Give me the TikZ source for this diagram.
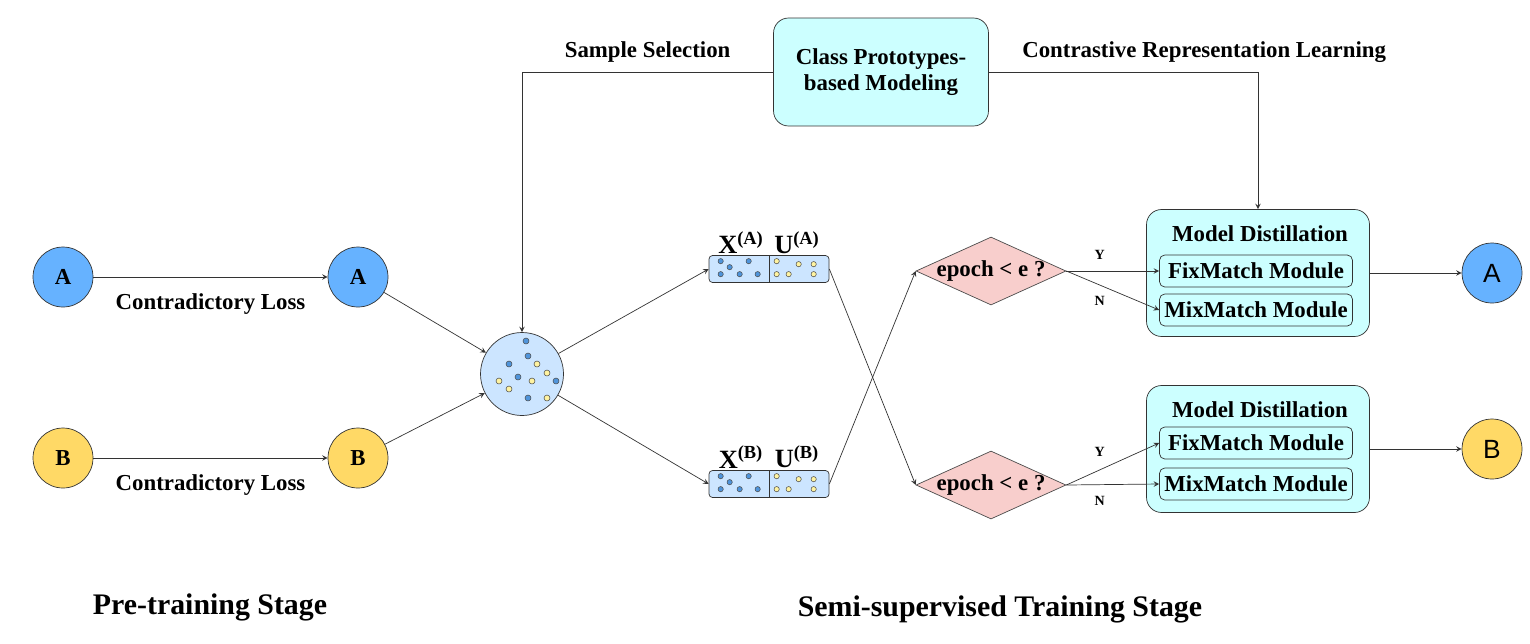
\documentclass[tikz,border=0pt]{standalone}
\usepackage{fontspec}
\setmainfont{Liberation Serif}
\newfontfamily\arialfont{Liberation Sans}
\usetikzlibrary{arrows, shapes.geometric, positioning}

\definecolor{blueA}{HTML}{66B2FF}
\definecolor{yellowB}{HTML}{FFD966}
\definecolor{poolblue}{HTML}{CCE5FF}
\definecolor{cyanbox}{HTML}{CCFFFF}
\definecolor{pinkdec}{HTML}{F8CECC}
\definecolor{dotblue}{HTML}{4F94DB}
\definecolor{dotyellow}{HTML}{FFF3A0}

\begin{document}
\begin{tikzpicture}[x=0.02cm, y=-0.02cm, ->, >=stealth, draw=black!80,
	font=\fontsize{13}{15}\selectfont\bfseries,
	model/.style={circle, draw=black!80, minimum size=1.2cm, inner sep=0pt},
	pool/.style={circle, draw=black!80, fill=poolblue, minimum size=1.66cm},
	batch/.style={rectangle, rounded corners=2pt, draw=black!80, fill=poolblue, minimum width=2.4cm, minimum height=0.54cm},
	decision/.style={diamond, draw=black!70, fill=pinkdec, aspect=2.2, minimum width=3cm, minimum height=1.36cm, inner sep=-2pt},
	distill/.style={rectangle, rounded corners=0.3cm, draw=black!80, fill=cyanbox, minimum width=4.46cm, minimum height=2.54cm},
	module/.style={rectangle, rounded corners=3pt, draw=black!80, fill=cyanbox, minimum width=3.86cm, minimum height=0.64cm, inner sep=0pt},
	proto/.style={rectangle, rounded corners=0.3cm, draw=black!80, fill=cyanbox, minimum width=4.3cm, minimum height=2.16cm, align=center},
	yn/.style={font=\fontsize{8}{9}\selectfont\bfseries},
	stage/.style={font=\fontsize{17}{20}\selectfont\bfseries},
	bdot/.style={fill=dotblue, draw=black!70, line width=0.3pt},
	ydot/.style={fill=dotyellow, draw=black!70, line width=0.3pt}]

	\useasboundingbox (0,0) rectangle (1530,643);

	% pre-training models
	\node[model, fill=blueA] (inA) at (63,277) {A};
	\node[model, fill=yellowB] (inB) at (63,458) {B};
	\node[model, fill=blueA] (preA) at (358,277) {A};
	\node[model, fill=yellowB] (preB) at (358,458) {B};

	% mixed sample pool
	\node[pool] (pool) at (522,374) {};
	\foreach \dx/\dy in {4/-33, 6/-18, -13/-10, -4/3, 34/7, 6/24}
		\draw[-, bdot] ([shift={(\dx,\dy)}]pool.center) circle (1.7pt);
	\foreach \dx/\dy in {15/-10, 25/-1, -23/7, 10/7, -13/15, 25/24}
		\draw[-, ydot] ([shift={(\dx,\dy)}]pool.center) circle (1.7pt);

	% labeled / unlabeled splits
	\node[batch] (xa) at (769,269) {};
	\node[batch] (xb) at (769,484) {};
	\foreach \b in {xa, xb} {
		\draw[-] (\b.north) -- (\b.south);
		\foreach \dx/\dy in {12/6, 40/6, 21/12, 12/19, 31/19, 49/19}
			\draw[-, bdot] ([shift={(\dx,\dy)}]\b.north west) circle (1.5pt);
		\foreach \dx/\dy in {68/6, 90/9, 105/9, 68/19, 80/19, 105/19}
			\draw[-, ydot] ([shift={(\dx,\dy)}]\b.north west) circle (1.5pt);
	}
	\node (xlabA) at (741,243) {\fontsize{15}{17}\selectfont X\textsuperscript{(A)}};
	\node (ulabA) at (797,243) {\fontsize{15}{17}\selectfont U\textsuperscript{(A)}};
	\node (xlabB) at (741,457) {\fontsize{15}{17}\selectfont X\textsuperscript{(B)}};
	\node (ulabB) at (797,457) {\fontsize{15}{17}\selectfont U\textsuperscript{(B)}};

	% decisions
	\node[decision] (decA) at (991,271) {epoch < e ?};
	\node[decision] (decB) at (991,485) {epoch < e ?};

	% distillation blocks
	\node[distill] (mdA) at (1258,273) {};
	\node (titleA) at (1260,234) {Model Distillation};
	\node[module] (fixA) at (1256,271) {FixMatch Module};
	\node[module] (mixA) at (1256,310) {MixMatch Module};

	\node[distill] (mdB) at (1258,449) {};
	\node (titleB) at (1260,410) {Model Distillation};
	\node[module] (fixB) at (1256,443) {FixMatch Module};
	\node[module] (mixB) at (1256,484) {MixMatch Module};

	\node[model, fill=blueA, font=\arialfont\fontsize{15}{17}\selectfont] (outA) at (1492,273) {A};
	\node[model, fill=yellowB, font=\arialfont\fontsize{15}{17}\selectfont] (outB) at (1492,449) {B};

	\node[proto] (cpm) at (881,72) {Class Prototypes-\\based Modeling};

	\path
	(inA) edge node[below=6pt] {Contradictory Loss} (preA)
	(inB) edge node[below=6pt] {Contradictory Loss} (preB)
	(preA) edge (pool)
	(preB) edge (pool)
	(pool) edge (xa.west)
			edge (xb.west)
	(xa.east) edge (decB.west)
	(xb.east) edge (decA.west)
	(decA.east) edge node[yn, pos=0.36, above=3pt] {Y} (fixA.west)
			edge node[yn, pos=0.36, below=3pt] {N} (mixA.west)
	(decB.east) edge node[yn, pos=0.36, above=4pt] {Y} (fixB.west)
			edge node[yn, pos=0.36, below=3pt] {N} (mixB.west)
	(mdA) edge (outA)
	(mdB) edge (outB);

	\draw (cpm.west) -| node[pos=0.25, above=2pt] {Sample Selection} (pool.north);
	\draw (cpm.east) -| node[pos=0.4, above=2pt] {Contrastive Representation Learning} (mdA.north);

	\node[stage] (pretrain) at (210,607) {Pre-training Stage};
	\node[stage] (semisup) at (1000,609) {Semi-supervised Training Stage};

\end{tikzpicture}
\end{document}
